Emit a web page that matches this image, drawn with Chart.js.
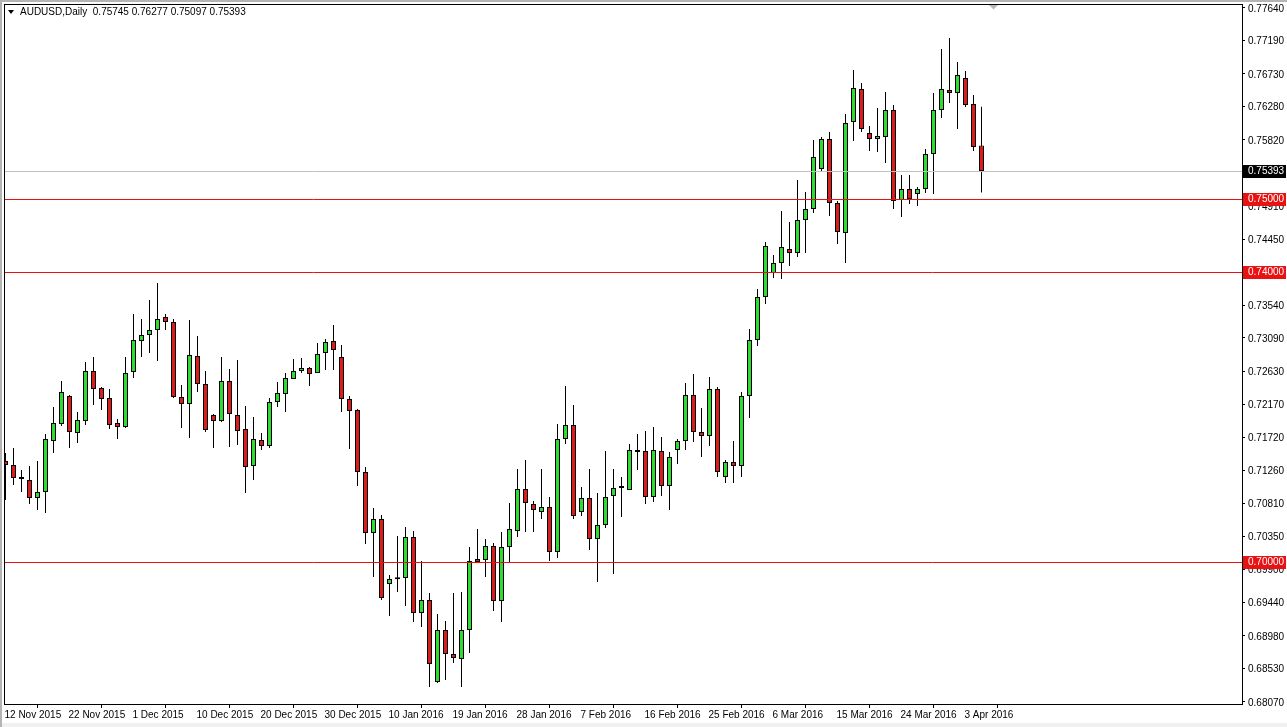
<!DOCTYPE html>
<html><head><meta charset="utf-8">
<script src="https://cdn.jsdelivr.net/npm/chart.js@4.4.1/dist/chart.umd.min.js"></script>
<style>html,body{margin:0;padding:0;background:#fff;overflow:hidden}canvas{display:block}</style>
</head><body>
<canvas id="c" width="1287" height="727"></canvas>
<script>
const symbolTitle = 'AUDUSD,Daily';
const dates = ['12 Nov 2015','13 Nov 2015','15 Nov 2015','16 Nov 2015','17 Nov 2015','18 Nov 2015','19 Nov 2015','20 Nov 2015',
'22 Nov 2015','23 Nov 2015','24 Nov 2015','25 Nov 2015','26 Nov 2015','27 Nov 2015','29 Nov 2015','30 Nov 2015',
'1 Dec 2015','2 Dec 2015','3 Dec 2015','4 Dec 2015','6 Dec 2015','7 Dec 2015','8 Dec 2015','9 Dec 2015',
'10 Dec 2015','11 Dec 2015','13 Dec 2015','14 Dec 2015','15 Dec 2015','16 Dec 2015','17 Dec 2015','18 Dec 2015',
'20 Dec 2015','21 Dec 2015','22 Dec 2015','23 Dec 2015','24 Dec 2015','27 Dec 2015','28 Dec 2015','29 Dec 2015',
'30 Dec 2015','31 Dec 2015','3 Jan 2016','4 Jan 2016','5 Jan 2016','6 Jan 2016','7 Jan 2016','8 Jan 2016',
'10 Jan 2016','11 Jan 2016','12 Jan 2016','13 Jan 2016','14 Jan 2016','15 Jan 2016','17 Jan 2016','18 Jan 2016',
'19 Jan 2016','20 Jan 2016','21 Jan 2016','22 Jan 2016','24 Jan 2016','25 Jan 2016','26 Jan 2016','27 Jan 2016',
'28 Jan 2016','29 Jan 2016','31 Jan 2016','1 Feb 2016','2 Feb 2016','3 Feb 2016','4 Feb 2016','5 Feb 2016',
'7 Feb 2016','8 Feb 2016','9 Feb 2016','10 Feb 2016','11 Feb 2016','12 Feb 2016','14 Feb 2016','15 Feb 2016',
'16 Feb 2016','17 Feb 2016','18 Feb 2016','19 Feb 2016','21 Feb 2016','22 Feb 2016','23 Feb 2016','24 Feb 2016',
'25 Feb 2016','26 Feb 2016','28 Feb 2016','29 Feb 2016','1 Mar 2016','2 Mar 2016','3 Mar 2016','4 Mar 2016',
'6 Mar 2016','7 Mar 2016','8 Mar 2016','9 Mar 2016','10 Mar 2016','11 Mar 2016','13 Mar 2016','14 Mar 2016',
'15 Mar 2016','16 Mar 2016','17 Mar 2016','18 Mar 2016','20 Mar 2016','21 Mar 2016','22 Mar 2016','23 Mar 2016',
'24 Mar 2016','25 Mar 2016','27 Mar 2016','28 Mar 2016','29 Mar 2016','30 Mar 2016','31 Mar 2016','1 Apr 2016',
'3 Apr 2016','4 Apr 2016','5 Apr 2016'];

const open = [0.71393,0.71338,0.71172,0.71131,0.70883,0.70965,0.71669,0.71903,0.72289,0.71779,
0.71944,0.72634,0.72400,0.72262,0.71917,0.71862,0.72620,0.73048,0.73130,0.73199,
0.73379,0.73310,0.72275,0.72179,0.72841,0.72455,0.72027,0.71944,0.72496,0.72027,
0.71834,0.71324,0.71682,0.71600,0.72206,0.72317,0.72524,0.72634,0.72675,0.72606,
0.72882,0.73048,0.72827,0.72248,0.72096,0.71241,0.70400,0.70593,0.69697,0.69766,
0.69779,0.70345,0.69297,0.69476,0.68345,0.69062,0.68731,0.68662,0.69062,0.70041,
0.70028,0.70221,0.69462,0.70207,0.70428,0.71007,0.70800,0.70690,0.70759,0.70138,
0.71696,0.71889,0.70690,0.70883,0.70317,0.70510,0.70910,0.71021,0.70993,0.71545,
0.71531,0.70896,0.71531,0.71048,0.71545,0.71669,0.72303,0.71793,0.71738,0.72386,
0.71172,0.71379,0.71324,0.72289,0.73061,0.73654,0.73985,0.74123,0.74316,0.74261,
0.74716,0.74868,0.75420,0.75833,0.74951,0.74537,0.76068,0.76523,0.75916,0.75833,
0.75861,0.76233,0.74992,0.75144,0.75075,0.75144,0.75626,0.76233,0.76509,0.76468,
0.76674,0.76316,0.75745];
const high = [0.71503,0.71572,0.71269,0.71324,0.71393,0.71765,0.72137,0.72496,0.72303,0.72069,
0.72758,0.72827,0.72413,0.72386,0.71972,0.72827,0.73420,0.73351,0.73613,0.73847,
0.73420,0.73351,0.72441,0.73337,0.73117,0.72634,0.72041,0.72827,0.72662,0.72786,
0.72151,0.72000,0.71779,0.72262,0.72482,0.72606,0.72799,0.72813,0.72689,0.73020,
0.73075,0.73268,0.72992,0.72289,0.72110,0.71310,0.70745,0.70648,0.69821,0.70359,
0.70483,0.70428,0.70014,0.69573,0.69283,0.69186,0.69573,0.69586,0.70207,0.70455,
0.70317,0.70262,0.70414,0.70814,0.71283,0.71407,0.70841,0.71283,0.70896,0.71903,
0.72427,0.72165,0.71034,0.71283,0.70952,0.71531,0.71283,0.71172,0.71627,0.71765,
0.71807,0.71862,0.71724,0.71517,0.71696,0.72468,0.72593,0.72124,0.72551,0.72413,
0.71407,0.71669,0.72344,0.73213,0.73765,0.74413,0.74234,0.74840,0.74689,0.75268,
0.75102,0.75819,0.75861,0.75930,0.74978,0.76178,0.76785,0.76605,0.76012,0.76261,
0.76481,0.76302,0.75337,0.75337,0.75171,0.75695,0.76468,0.77074,0.77226,0.76895,
0.76771,0.76440,0.76277];
const low = [0.70855,0.71062,0.70965,0.70800,0.70717,0.70676,0.71503,0.71875,0.71572,0.71641,
0.71889,0.72165,0.72096,0.71834,0.71696,0.71848,0.72537,0.72827,0.72882,0.72772,
0.73199,0.72262,0.71848,0.71710,0.72344,0.71793,0.71572,0.71931,0.71586,0.71613,
0.70952,0.71131,0.71545,0.71572,0.72137,0.72069,0.72524,0.72606,0.72427,0.72606,
0.72648,0.72648,0.72069,0.71558,0.71048,0.70248,0.69793,0.69476,0.69255,0.69586,
0.69393,0.69173,0.69104,0.68276,0.68331,0.68373,0.68607,0.68276,0.68745,0.69986,
0.69793,0.69324,0.69173,0.69986,0.70345,0.70414,0.70414,0.70593,0.70014,0.70055,
0.71627,0.70593,0.70634,0.70166,0.69724,0.70469,0.69835,0.70621,0.70993,0.71269,
0.70800,0.70827,0.70910,0.70717,0.71351,0.71545,0.71655,0.71448,0.71600,0.71172,
0.71089,0.71089,0.71172,0.71986,0.72979,0.73558,0.73916,0.73903,0.74082,0.74206,
0.74261,0.74813,0.75378,0.74771,0.74385,0.74123,0.75806,0.75930,0.75668,0.75654,
0.75502,0.74868,0.74758,0.74937,0.74909,0.75089,0.75075,0.76123,0.76330,0.75971,
0.76275,0.75668,0.75097];
const close = [0.71338,0.71158,0.71145,0.70883,0.70965,0.71696,0.71917,0.72344,0.71793,0.71958,
0.72634,0.72386,0.72248,0.71889,0.71862,0.72606,0.73061,0.73130,0.73199,0.73351,
0.73310,0.72275,0.72179,0.72855,0.72455,0.71820,0.71944,0.72496,0.72041,0.71807,
0.71310,0.71696,0.71600,0.72206,0.72331,0.72537,0.72634,0.72675,0.72593,0.72868,
0.73034,0.72924,0.72248,0.72082,0.71241,0.70400,0.70593,0.69504,0.69766,0.69762,
0.70345,0.69297,0.69476,0.68593,0.69062,0.68731,0.68676,0.69062,0.70014,0.70000,
0.70221,0.69462,0.70207,0.70455,0.71007,0.70814,0.70717,0.70759,0.70138,0.71696,
0.71889,0.70634,0.70883,0.70317,0.70510,0.70896,0.71021,0.71048,0.71545,0.71517,
0.70896,0.71545,0.71048,0.71448,0.71669,0.72303,0.71793,0.71738,0.72386,0.71241,
0.71379,0.71324,0.72289,0.73061,0.73654,0.74358,0.74123,0.74344,0.74261,0.74716,
0.74868,0.75585,0.75833,0.74951,0.74551,0.76054,0.76537,0.75971,0.75833,0.75875,
0.76233,0.74978,0.75144,0.75006,0.75144,0.75626,0.76233,0.76523,0.76468,0.76716,
0.76302,0.75723,0.75393];

const xTickLabels = ['12 Nov 2015','22 Nov 2015','1 Dec 2015','10 Dec 2015','20 Dec 2015','30 Dec 2015',
'10 Jan 2016','19 Jan 2016','28 Jan 2016','7 Feb 2016','16 Feb 2016','25 Feb 2016','6 Mar 2016',
'15 Mar 2016','24 Mar 2016','3 Apr 2016'];
const yTickLabels = ['0.68070','0.68530','0.68980','0.69440','0.69900','0.70350','0.70810','0.71260',
'0.71720','0.72170','0.72630','0.73090','0.73540','0.73990','0.74450','0.74910','0.75360','0.75820',
'0.76280','0.76730','0.77190','0.77640'];
const levelLines = [0.75, 0.74, 0.70];
const levelLabels = ['0.75000','0.74000','0.70000'];
const bidLabel = '0.75393';

const FONT = {family: '"Liberation Sans", Arial, sans-serif', size: 10};
const UP = '#2fdc2f', DOWN = '#dc1c1c', LEVEL = '#e81212';

const last = close.length - 1;
const bodies = close.map((c, i) => ({x: i, y: [open[i], c]}));
const wicks = close.map((c, i) => ({x: i, y: [low[i], high[i]]}));

const framePlugin = {
  id: 'mtFrame',
  afterDatasetsDraw(chart) {
    const {ctx, chartArea: a, scales: {y}} = chart;
    ctx.save();
    ctx.lineWidth = 1;
    const by = Math.round(y.getPixelForValue(close[last])) + 0.5;
    ctx.strokeStyle = '#c0c0c0';
    ctx.beginPath(); ctx.moveTo(a.left, by); ctx.lineTo(a.right, by); ctx.stroke();
    ctx.strokeStyle = LEVEL;
    levelLines.forEach(v => {
      const py = Math.round(y.getPixelForValue(v)) + 0.5;
      ctx.beginPath(); ctx.moveTo(a.left, py); ctx.lineTo(a.right, py); ctx.stroke();
    });
    ctx.restore();
  },
  afterDraw(chart) {
    const {ctx, chartArea: a, scales: {y}} = chart;
    ctx.save();
    ctx.fillStyle = '#b4b4b4';
    ctx.fillRect(0, 0, chart.width, 2);
    ctx.fillRect(0, 0, 2, chart.height);
    ctx.fillStyle = '#f0f0f0';
    ctx.fillRect(2, 723, chart.width, 4);
    ctx.strokeStyle = '#000';
    ctx.lineWidth = 1;
    ctx.strokeRect(a.left + 0.5, a.top + 0.5, a.right - a.left, a.bottom - a.top);
    ctx.fillStyle = '#000';
    ctx.beginPath(); ctx.moveTo(8, 10); ctx.lineTo(14, 10); ctx.lineTo(11, 14); ctx.closePath(); ctx.fill();
    ctx.font = '10px "Liberation Sans", Arial, sans-serif';
    ctx.textBaseline = 'middle';
    ctx.textAlign = 'left';
    ctx.fillText(symbolTitle + '  ' + [open[last], high[last], low[last], close[last]].map(v => v.toFixed(5)).join(' '), 20, 12.5);
    ctx.fillStyle = '#b8b8b8';
    ctx.beginPath(); ctx.moveTo(989, 5); ctx.lineTo(998, 5); ctx.lineTo(993.5, 9.5); ctx.closePath(); ctx.fill();
    const box = (v, txt, bg) => {
      const py = Math.round(y.getPixelForValue(v));
      ctx.fillStyle = bg;
      ctx.fillRect(a.right + 1, py - 6, 43, 13);
      ctx.fillStyle = '#fff';
      ctx.fillText(txt, a.right + 6, py + 0.5);
    };
    levelLines.forEach((v, i) => box(v, levelLabels[i], LEVEL));
    box(close[last], bidLabel, '#000');
    ctx.restore();
  }
};

new Chart(document.getElementById('c').getContext('2d'), {
  type: 'bar',
  data: {
    datasets: [
      {label: 'body', data: bodies, backgroundColor: close.map((c, i) => c >= open[i] ? UP : DOWN),
       borderColor: '#000', borderWidth: 1, borderSkipped: false, barThickness: 5, minBarLength: 2,
       inflateAmount: 0, grouped: false},
      {label: 'wick', data: wicks, backgroundColor: '#000', borderWidth: 0, barThickness: 1,
       inflateAmount: 0, grouped: false}
    ]
  },
  options: {
    responsive: false, animation: false, devicePixelRatio: 1,
    layout: {padding: {left: 4, top: 4, right: 0, bottom: 0}},
    plugins: {legend: {display: false}, tooltip: {enabled: false}, title: {display: false}},
    scales: {
      x: {
        type: 'linear', min: -0.1875, max: 154.5625, offset: false,
        grid: {display: true, drawOnChartArea: false, drawTicks: true, tickLength: 4, color: '#000'},
        border: {display: false},
        ticks: {autoSkip: false, maxRotation: 0, minRotation: 0, align: 'start', labelOffset: -1, padding: 1,
                color: '#000', font: FONT, callback: v => dates[v]},
        afterBuildTicks: s => { s.ticks = dates.map((d, i) => xTickLabels.includes(d) ? {value: i} : null).filter(Boolean); },
        afterFit: s => { s.height = 23; s.paddingLeft = 0; s.paddingRight = 0; }
      },
      y: {
        type: 'linear', position: 'right', min: 0.68042, max: 0.77695,
        grid: {display: true, drawOnChartArea: false, drawTicks: true, tickLength: 3, color: '#000'},
        border: {display: false},
        ticks: {autoSkip: false, padding: 3, labelOffset: 1, color: '#000', font: FONT,
                callback: (v, i) => yTickLabels[i]},
        afterBuildTicks: s => { s.ticks = yTickLabels.map(t => ({value: Number(t)})); },
        afterFit: s => { s.width = 45; s.paddingTop = 0; s.paddingBottom = 0; }
      }
    }
  },
  plugins: [framePlugin]
});
</script>
</body></html>
